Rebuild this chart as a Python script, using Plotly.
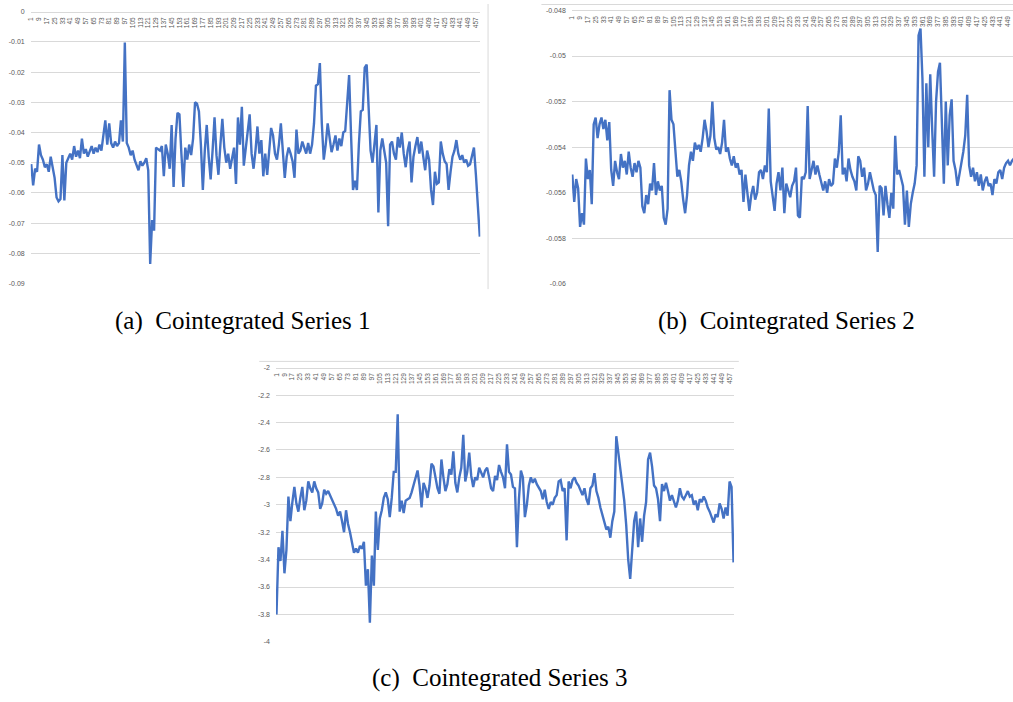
import plotly.graph_objects as go

W, H = 1013, 702

# Sampled categories (every second category) for each cointegrated series
categories_1 = list(range(1, 462, 2))
categories_2 = list(range(1, 456, 2))
categories_3 = list(range(1, 462, 2))

series_1 = [
    -0.0505, -0.0575, -0.052, -0.053, -0.044, -0.0475, -0.049, -0.0515, -0.0505, -0.053,
    -0.048, -0.051, -0.055, -0.0615, -0.0628, -0.062, -0.0475, -0.0625, -0.050, -0.0485,
    -0.047, -0.049, -0.0445, -0.048, -0.046, -0.0485, -0.042, -0.047, -0.0455, -0.048,
    -0.046, -0.0445, -0.047, -0.045, -0.0465, -0.044, -0.046, -0.0415, -0.036, -0.044,
    -0.037, -0.0435, -0.045, -0.043, -0.0445, -0.0435, -0.036, -0.043, -0.0102, -0.0435,
    -0.045, -0.0475, -0.046, -0.049, -0.0505, -0.0525, -0.0495, -0.051, -0.050, -0.0485,
    -0.0525, -0.0835, -0.069, -0.0725, -0.045, -0.0455, -0.046, -0.0445, -0.0545, -0.044,
    -0.047, -0.052, -0.0375, -0.058, -0.042, -0.0335, -0.034, -0.047, -0.058, -0.045,
    -0.049, -0.044, -0.0475, -0.042, -0.030, -0.0305, -0.033, -0.044, -0.059, -0.046,
    -0.0375, -0.048, -0.0555, -0.046, -0.035, -0.0475, -0.054, -0.044, -0.0355, -0.045,
    -0.050, -0.047, -0.052, -0.0485, -0.045, -0.057, -0.035, -0.044, -0.0315, -0.051,
    -0.045, -0.038, -0.034, -0.047, -0.052, -0.046, -0.038, -0.047, -0.0425, -0.0545,
    -0.047, -0.054, -0.045, -0.0385, -0.041, -0.047, -0.049, -0.044, -0.037, -0.046,
    -0.055, -0.048, -0.045, -0.047, -0.0495, -0.055, -0.039, -0.047, -0.046, -0.043,
    -0.045, -0.047, -0.0435, -0.047, -0.044, -0.037, -0.0245, -0.024, -0.017, -0.037,
    -0.049, -0.044, -0.037, -0.042, -0.0465, -0.044, -0.041, -0.046, -0.042, -0.0445,
    -0.040, -0.0395, -0.031, -0.021, -0.041, -0.059, -0.056, -0.059, -0.044, -0.033,
    -0.0325, -0.0185, -0.0175, -0.035, -0.046, -0.050, -0.0425, -0.0375, -0.0665, -0.046,
    -0.042, -0.046, -0.050, -0.071, -0.044, -0.043, -0.047, -0.049, -0.0415, -0.045,
    -0.040, -0.047, -0.0515, -0.046, -0.043, -0.0565, -0.048, -0.0445, -0.0415, -0.047,
    -0.043, -0.048, -0.0525, -0.046, -0.049, -0.059, -0.064, -0.053, -0.057, -0.0565,
    -0.043, -0.047, -0.0495, -0.0505, -0.059, -0.053, -0.048, -0.046, -0.0425, -0.047,
    -0.049, -0.0475, -0.050, -0.049, -0.051, -0.0505, -0.0475, -0.045, -0.054, -0.063,
    -0.0745,
]

series_2 = [
    -0.0552, -0.0564, -0.0554, -0.0558, -0.0575, -0.0569, -0.0574, -0.0545, -0.0554, -0.0550,
    -0.0565, -0.0530, -0.0527, -0.0536, -0.0530, -0.0527, -0.0532, -0.0528, -0.0537, -0.0529,
    -0.0550, -0.0557, -0.0546, -0.0551, -0.0554, -0.0543, -0.0549, -0.0546, -0.0552, -0.0542,
    -0.0549, -0.0553, -0.0547, -0.0551, -0.0546, -0.0549, -0.0566, -0.0569, -0.0561, -0.0565,
    -0.0556, -0.0559, -0.0547, -0.0561, -0.0555, -0.0559, -0.0557, -0.0571, -0.0574, -0.0567,
    -0.0515, -0.0528, -0.0530, -0.0540, -0.0553, -0.0550, -0.0555, -0.0563, -0.0569, -0.0561,
    -0.0548, -0.0542, -0.0546, -0.0538, -0.0541, -0.0539, -0.0542, -0.0536, -0.0528, -0.0533,
    -0.0540, -0.0535, -0.0520, -0.0536, -0.0541, -0.0540, -0.0543, -0.0538, -0.0528, -0.0542,
    -0.0540, -0.0545, -0.0548, -0.0544, -0.0549, -0.0547, -0.0552, -0.0550, -0.0564, -0.0552,
    -0.0560, -0.0568, -0.0561, -0.0557, -0.0563, -0.0560, -0.0551, -0.0550, -0.0554, -0.0548,
    -0.0551, -0.0523, -0.0555, -0.0563, -0.0568, -0.0556, -0.0551, -0.0559, -0.0549, -0.0569,
    -0.0556, -0.0559, -0.0562, -0.0557, -0.0555, -0.0549, -0.0570, -0.0571, -0.0553, -0.0554,
    -0.0551, -0.0522, -0.0554, -0.0550, -0.0546, -0.0552, -0.0548, -0.0552, -0.0556, -0.0559,
    -0.0555, -0.0560, -0.0554, -0.0557, -0.0556, -0.0545, -0.0549, -0.0542, -0.0526, -0.0552,
    -0.0549, -0.0555, -0.0545, -0.0550, -0.0553, -0.0555, -0.0559, -0.0544, -0.0546, -0.0553,
    -0.0549, -0.0559, -0.0556, -0.0551, -0.0555, -0.0559, -0.0561, -0.0586, -0.0557, -0.0558,
    -0.0570, -0.0557, -0.0565, -0.0571, -0.0560, -0.0567, -0.0535, -0.0552, -0.0550, -0.0553,
    -0.0557, -0.0574, -0.0559, -0.0575, -0.0565, -0.0560, -0.0556, -0.0548, -0.0491, -0.0488,
    -0.0510, -0.0553, -0.0512, -0.0540, -0.0508, -0.0532, -0.0553, -0.0520, -0.0507, -0.0503,
    -0.0530, -0.0556, -0.0520, -0.0548, -0.0526, -0.0519, -0.0546, -0.0550, -0.0557, -0.0552,
    -0.0547, -0.0542, -0.0535, -0.0517, -0.0548, -0.0553, -0.0549, -0.0555, -0.0551, -0.0557,
    -0.0552, -0.0559, -0.0555, -0.0553, -0.0557, -0.0556, -0.0561, -0.0554, -0.0556, -0.0551,
    -0.0550, -0.0554, -0.0549, -0.0547, -0.0546, -0.0548, -0.0546, -0.0545,
]

series_3 = [
    -3.80, -3.31, -3.41, -3.19, -3.50, -3.33, -2.94, -3.12, -2.98, -2.87,
    -2.99, -3.05, -2.95, -2.87, -3.04, -2.97, -2.83, -2.88, -2.91, -2.83,
    -2.88, -2.91, -3.03, -2.99, -2.89, -2.92, -2.90, -2.93, -2.96, -3.00,
    -3.03, -3.08, -3.05, -3.12, -3.20, -3.04, -3.14, -3.20, -3.28, -3.35,
    -3.32, -3.35, -3.30, -3.32, -3.27, -3.59, -3.47, -3.86, -3.37, -3.59,
    -3.05, -3.33, -3.10, -3.04, -2.95, -2.91, -2.96, -3.09, -2.95, -2.76,
    -2.76, -2.34, -3.05, -2.97, -3.06, -2.97, -2.96, -2.95, -2.91, -2.85,
    -2.80, -2.75, -2.86, -3.02, -2.84, -2.88, -2.95, -2.86, -2.70, -2.72,
    -2.80, -2.88, -2.92, -2.67, -2.80, -2.90, -2.85, -2.74, -2.78, -2.61,
    -2.84, -2.91, -2.80, -2.73, -2.49, -2.83, -2.76, -2.62, -2.79, -2.87,
    -2.80, -2.82, -2.73, -2.77, -2.80, -2.75, -2.73, -2.80, -2.88, -2.90,
    -2.79, -2.82, -2.71, -2.76, -2.80, -2.88, -2.56, -2.76, -2.78, -2.87,
    -2.88, -3.31, -2.96, -2.75, -2.80, -3.09, -3.00, -2.86, -2.80, -2.84,
    -2.81, -2.85, -2.88, -2.90, -2.96, -2.89, -2.98, -3.03, -2.98, -3.00,
    -2.95, -2.93, -2.83, -2.82, -2.90, -2.88, -3.26, -2.83, -2.88, -2.82,
    -2.80, -2.84, -2.86, -2.90, -2.93, -2.88, -2.96, -3.00, -2.88, -2.86,
    -2.77, -2.90, -2.95, -3.02, -3.08, -3.13, -3.18, -3.16, -3.24, -3.12,
    -3.05, -2.50, -2.62, -2.73, -2.84, -2.97, -3.15, -3.40, -3.54, -3.30,
    -3.12, -3.05, -3.31, -3.10, -3.27, -3.08, -2.98, -2.67, -2.62, -2.72,
    -2.86, -2.88, -2.96, -3.12, -2.85, -2.90, -2.84, -2.90, -2.97, -2.93,
    -2.98, -3.02, -2.97, -2.88, -2.94, -2.96, -2.93, -2.90, -2.94, -2.93,
    -3.00, -2.97, -3.04, -2.96, -2.98, -2.94, -2.97, -3.02, -3.05, -3.09,
    -3.13, -3.07, -3.09, -2.99, -3.03, -3.10, -3.02, -3.08, -2.83, -2.87,
    -3.42,
]

# Category axis labels (every eighth category)
x_tick_vals = list(range(1, 458, 8))
x_tick_text = [str(v) for v in x_tick_vals]

# Value axis ticks
y1_vals = [0, -0.01, -0.02, -0.03, -0.04, -0.05, -0.06, -0.07, -0.08, -0.09]
y1_text = ["0", "-0.01", "-0.02", "-0.03", "-0.04", "-0.05", "-0.06", "-0.07", "-0.08", "-0.09"]
y2_vals = [-0.048, -0.05, -0.052, -0.054, -0.056, -0.058, -0.06]
y2_text = ["-0.048", "-0.05", "-0.052", "-0.054", "-0.056", "-0.058", "-0.06"]
y3_vals = [-2, -2.2, -2.4, -2.6, -2.8, -3, -3.2, -3.4, -3.6, -3.8, -4]
y3_text = ["-2", "-2.2", "-2.4", "-2.6", "-2.8", "-3", "-3.2", "-3.4", "-3.6", "-3.8", "-4"]

captions = ["(a)  Cointegrated Series 1", "(b)  Cointegrated Series 2", "(c)  Cointegrated Series 3"]

LINE = "#4472C4"
GRID = "#d9d9d9"
TICK = "#595959"


def px_x(x):
    return x / W


def px_y(y):
    return 1 - y / H


fig = go.Figure()

panels = [
    dict(x=categories_1, y=series_1, xdom=(27.8, 478.7), ydom=(282.3, 7.8),
         xr=(0.5, 461.5), yr=(-0.09, 0), yv=y1_vals, yt=y1_text),
    dict(x=categories_2, y=series_2, xdom=(570.5, 1013), ydom=(282.7, 6.5),
         xr=(0.5, 454.1), yr=(-0.06, -0.048), yv=y2_vals, yt=y2_text),
    dict(x=categories_3, y=series_3, xdom=(273.8, 733.2), ydom=(644.3, 367.3),
         xr=(0.5, 461.5), yr=(-4, -2), yv=y3_vals, yt=y3_text),
]

layout_axes = {}
for k, p in enumerate(panels):
    suffix = "" if k == 0 else str(k + 1)
    fig.add_trace(go.Scatter(
        x=p["x"], y=p["y"], xaxis="x" + suffix, yaxis="y" + suffix, mode="lines",
        line=dict(color=LINE, width=2.4), hoverinfo="skip", showlegend=False,
    ))
    # category axis sits on the top gridline, labels hanging below it
    layout_axes["xaxis" + suffix] = dict(
        domain=[px_x(p["xdom"][0]), px_x(p["xdom"][1])],
        range=list(p["xr"]), anchor="free", position=px_y(p["ydom"][1]),
        side="bottom",
        tickmode="array", tickvals=x_tick_vals, ticktext=x_tick_text,
        tickangle=-90, ticklabelstandoff=2,
        tickfont=dict(family="Liberation Sans", size=6.5, color=TICK),
        ticks="", showgrid=False, zeroline=False,
        showline=True, linecolor=GRID, linewidth=1,
    )
    layout_axes["yaxis" + suffix] = dict(
        domain=[px_y(p["ydom"][0]), px_y(p["ydom"][1])],
        range=list(p["yr"]), anchor="x" + suffix,
        tickmode="array", tickvals=p["yv"], ticktext=p["yt"],
        tickfont=dict(family="Liberation Sans", size=7, color=TICK),
        ticklabelstandoff=5,
        ticks="", showgrid=True, gridcolor=GRID, gridwidth=1,
        zeroline=False, showline=False,
    )

annotations = [
    dict(text=captions[0], x=px_x(240), y=px_y(320)),
    dict(text=captions[1], x=px_x(786), y=px_y(320)),
    dict(text=captions[2], x=px_x(497.5), y=px_y(681)),
]
for a in annotations:
    a.update(xref="paper", yref="paper", xanchor="center", yanchor="middle",
             showarrow=False, font=dict(family="Liberation Serif", size=25, color="black"))

# Chart-area frame edges
shapes = [
    dict(type="line", x0=px_x(486.5), x1=px_x(486.5), y0=px_y(0), y1=px_y(288)),
    dict(type="line", x0=px_x(540), x1=px_x(1013), y0=px_y(0.5), y1=px_y(0.5)),
    dict(type="line", x0=px_x(257), x1=px_x(738), y0=px_y(361), y1=px_y(361)),
]
for s in shapes:
    s.update(xref="paper", yref="paper", line=dict(color=GRID, width=1))

fig.update_layout(
    width=W, height=H, margin=dict(l=0, r=0, t=0, b=0),
    paper_bgcolor="white", plot_bgcolor="white",
    annotations=annotations, shapes=shapes, **layout_axes,
)

fig.write_html("out.html")
